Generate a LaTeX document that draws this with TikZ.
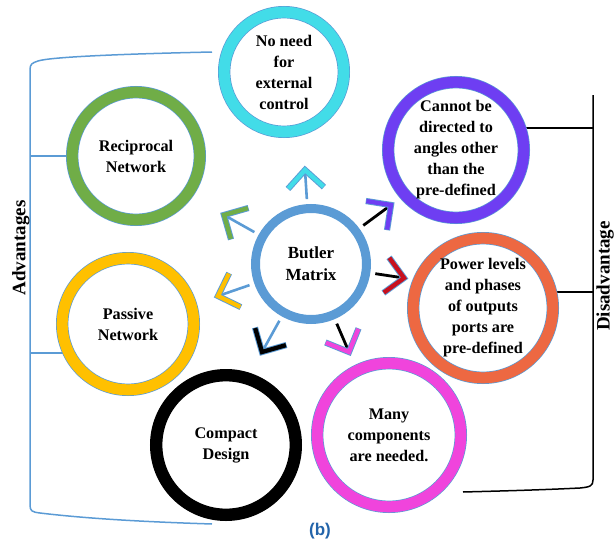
\documentclass[tikz,border=0pt]{standalone}
\usepackage{fontspec}
\setmainfont{Liberation Serif}
\newfontfamily\labsans{Liberation Sans}
\usetikzlibrary{backgrounds}
\definecolor{cyanc}{RGB}{66,220,232}
\definecolor{greenc}{RGB}{112,173,71}
\definecolor{purplec}{RGB}{110,62,242}
\definecolor{orangec}{RGB}{237,104,66}
\definecolor{pinkc}{RGB}{240,68,220}
\definecolor{yellowc}{RGB}{255,192,0}
\definecolor{butlerc}{RGB}{91,155,213}
\definecolor{edgec}{RGB}{91,155,213}
\definecolor{redc}{RGB}{200,16,30}
\definecolor{labc}{RGB}{35,100,170}
\begin{document}
\begin{tikzpicture}[x=1pt,y=-1pt,
  ringnode/.style 2 args={circle, draw=edgec, line width=0.7pt, double=#1,
    double distance=11pt, minimum size=#2, inner sep=0pt, align=center,
    font=\bfseries\fontsize{16.2}{21}\selectfont},
  bline/.style={draw=butlerc, line width=2.6pt, shorten <=5pt},
  kline/.style={draw=black, line width=2.8pt, shorten <=5pt},
  advline/.style={draw=butlerc, line width=1.5pt},
  disline/.style={draw=black, line width=1.5pt},
  chev/.pic={
    \draw[line width=6.2pt, edgec, miter limit=10] (-18,18) -- (0,0) -- (-18,-18);
    \draw[line width=4.3pt, #1, miter limit=10] (-17.6,17.6) -- (0,0) -- (-17.6,-17.6);
  }]
\useasboundingbox (0,0) rectangle (616,546);

% circles
\node[ringnode={cyanc}{119.6}] (nc) at (284,72) {No need\\for\\external\\control};
\node[ringnode={greenc}{127.6}] (rn) at (136,156) {Reciprocal\\Network};
\node[ringnode={purplec}{135.6}] (pc) at (456,150) {Cannot be\\directed to\\angles other\\than the\\pre-defined};
\node[ringnode={yellowc}{131.6}] (yn) at (128,324) {Passive\\Network};
\node[ringnode={orangec}{139.6}] (oc) at (483,308) {Power levels\\and phases\\of outputs\\ports are\\pre-defined};
\node[ringnode={pinkc}{143.6}] (mc) at (389,435) {Many\\components\\are needed.};
\node[ringnode={black}{139.6}, draw=black] (cd) at (226,445) {Compact\\Design};
\node[circle, draw=butlerc, line width=9pt, minimum size=111, inner sep=0pt, align=center,
  font=\bfseries\fontsize{17}{22}\selectfont] (bm) at (311,264) {Butler\\Matrix};

% arrow ends
\coordinate (t1) at (305,170);
\coordinate (t2) at (224,215);
\coordinate (t3) at (218,296);
\coordinate (t4) at (262,352);
\coordinate (t5) at (349,352);
\coordinate (t6) at (404,278);
\coordinate (t7) at (391,205);

\draw[bline] (bm) -- (t1);
\draw[bline] (bm) -- (t2);
\draw[bline] (bm) -- (t3);
\draw[bline] (bm) -- (t4);
\draw[kline] (bm) -- (t5);
\draw[kline] (bm) -- (t6);
\draw[kline] (bm) -- (t7);

\pic[rotate=93] at (t1) {chev=cyanc};
\pic[rotate=151] at (t2) {chev=greenc};
\pic[rotate=199] at (t3) {chev=yellowc};
\pic[rotate=241] at (t4) {chev=black};
\pic[rotate=293] at (t5) {chev=pinkc};
\pic[rotate=351] at (t6) {chev=redc};
\pic[rotate=36] at (t7) {chev=purplec};

% brackets
\coordinate (lb) at (30,0);
\coordinate (rb) at (593,0);
\begin{scope}[on background layer]
\draw[advline] (212,52) .. controls (120,54) and (50,57) .. (38,61)
  .. controls (32,63) and (30,64) .. (30,70) -- (30,505)
  .. controls (30,511) and (32,512) .. (40,513)
  .. controls (90,519) and (150,522) .. (212,524);
\draw[advline] (rn.west) -- (rn.west -| lb);
\draw[advline] (yn.206) -- (yn.206 -| lb);
\draw[disline] (593,95) -- (593,480)
  .. controls (593,486) and (590,487) .. (580,488)
  .. controls (540,490) and (500,491) .. (463,492);
\draw[disline] (pc.19) -- (pc.19 -| rb);
\draw[disline] (oc.13) -- (oc.13 -| rb);
\end{scope}

% labels
\node[rotate=90, font=\bfseries\fontsize{19}{22}\selectfont] (adv) at (21,248) {Advantages};
\node[rotate=90, font=\bfseries\fontsize{19}{22}\selectfont] (dis) at (605,276) {Disadvantage};
\node[font=\labsans\bfseries\fontsize{17}{19}\selectfont, text=labc] (lab) at (320,531) {(b)};
\end{tikzpicture}
\end{document}
